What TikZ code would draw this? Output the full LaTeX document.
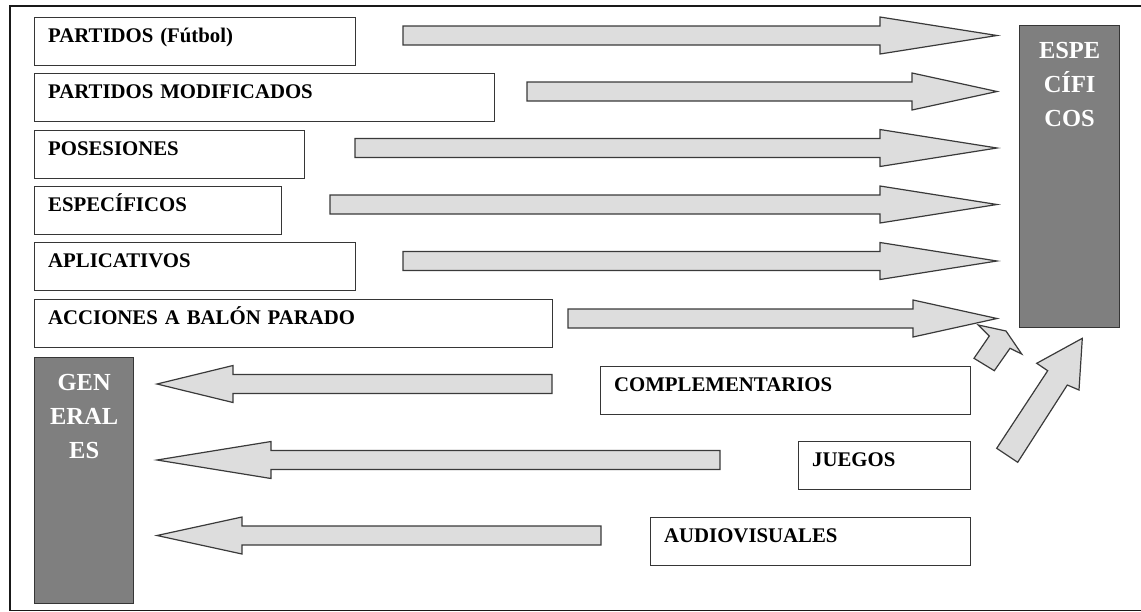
\documentclass[tikz,border=0pt]{standalone}
\usepackage{fontspec}
\setmainfont{Liberation Serif}
\usepackage{tikz}

\definecolor{boxline}{HTML}{363636}
\definecolor{darkfill}{HTML}{7F7F7F}
\definecolor{arrowfill}{HTML}{DDDDDD}
\definecolor{arrowline}{HTML}{3A3A3A}

\tikzset{
  listbox/.style={draw=boxline, line width=1.3pt, rectangle, anchor=north west,
    inner xsep=13.5pt, inner ysep=0pt, text height=25pt, text depth=23pt, align=left,
    font=\bfseries\fontsize{20.8}{24}\selectfont},
  darkbox/.style={draw=boxline, fill=darkfill, line width=1.3pt, rectangle, anchor=north west,
    inner sep=0pt, text height=33pt, align=center, text=white,
    font=\bfseries\fontsize{24.5}{34}\selectfont},
  blockarrow/.style={draw=arrowline, fill=arrowfill, line width=1.2pt, line join=miter}
}

% flecha de bloque horizontal: cola, cuello, punta, altura
\newcommand{\harrow}[4]{%
  \draw[blockarrow] (#1,#4-9.5) -- (#2,#4-9.5) -- (#2,#4-18.5) -- (#3,#4)
    -- (#2,#4+18.5) -- (#2,#4+9.5) -- (#1,#4+9.5) -- cycle;}

\begin{document}
\begin{tikzpicture}[x=1pt, y=-1pt]
  \useasboundingbox (0,0) rectangle (1141,611);
  \draw[line width=1.8pt, draw=black!90] (10,6) rectangle (1160,610.5);

  % contenidos
  \node[listbox, text width=294pt] (partidos) at (34,17) {PARTIDOS (Fútbol)};
  \node[listbox, text width=433pt] (modificados) at (34,73) {PARTIDOS MODIFICADOS};
  \node[listbox, text width=243pt] (posesiones) at (34,130) {POSESIONES};
  \node[listbox, text width=220pt] (especificos) at (34,186) {ESPECÍFICOS};
  \node[listbox, text width=294pt] (aplicativos) at (34,242) {APLICATIVOS};
  \node[listbox, text width=491pt] (acciones) at (34,299) {ACCIONES A BALÓN PARADO};
  \node[listbox, text width=343pt] (complement) at (600,366) {COMPLEMENTARIOS};
  \node[listbox, text width=145pt] (juegos) at (798,441) {JUEGOS};
  \node[listbox, text width=293pt] (audiovis) at (650,517) {AUDIOVISUALES};

  % bloques
  \node[darkbox, text width=100pt, text depth=269pt] (espec) at (1019,25) {ESPE\\CÍFI\\COS};
  \node[darkbox, text width=99pt, text depth=213pt] (generales) at (34,357) {GEN\\ERAL\\ES};

  % flechas hacia ESPECIFICOS
  \harrow{403}{880}{997}{35.5}
  \harrow{527}{912}{997}{91.5}
  \harrow{355}{880}{997}{148}
  \harrow{330}{880}{997}{204.5}
  \harrow{403}{880}{997}{261}
  \draw[blockarrow] (974,358.3) -- (989.3,336) -- (978.3,325) -- (1006,331)
    -- (1021.7,354) -- (1010,348.3) -- (994.3,370.7) -- cycle;
  \harrow{568}{913}{997}{318.5}
  \draw[blockarrow] (996.7,448.3) -- (1047.7,370.7) -- (1036.7,363.3) -- (1082.3,338.3)
    -- (1079,390) -- (1067.3,385) -- (1017.7,462.3) -- cycle;

  % flechas hacia GENERALES
  \harrow{552}{233}{157}{384}
  \harrow{720}{271}{157}{460}
  \harrow{601}{242}{157}{535.5}
\end{tikzpicture}
\end{document}
